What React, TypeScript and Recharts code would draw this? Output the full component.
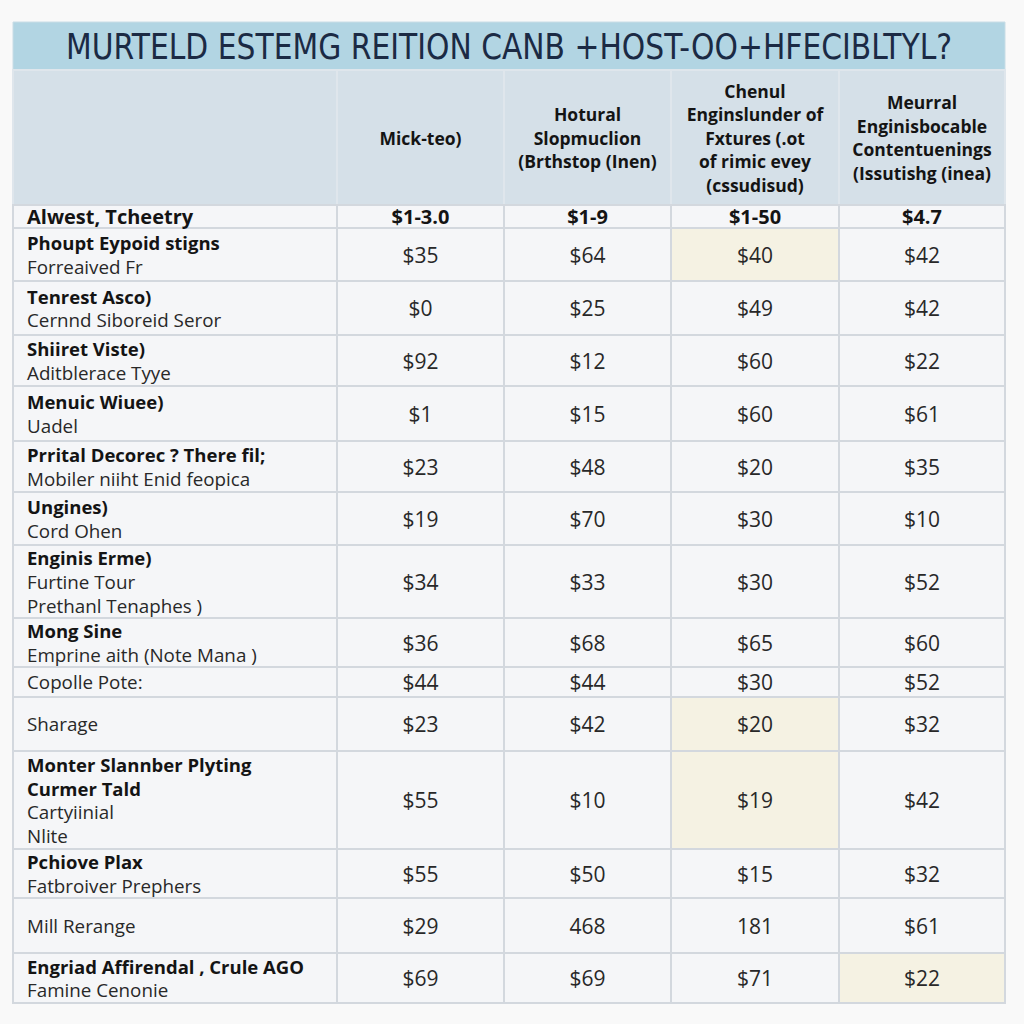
import React from 'react';
import { ComposedChart, XAxis, YAxis, Scatter, ReferenceArea } from 'recharts';

// ---- data ----
const TITLE = 'MURTELD ESTEMG REITION CANB +HOST-OO+HFECIBLTYL?';

const COLUMN_HEADERS: string[][] = [
  [],
  ['Mick-teo)'],
  ['Hotural', 'Slopmuclion', '(Brthstop (Inen)'],
  ['Chenul', 'Enginslunder of', 'Fxtures (.ot', 'of rimic evey', '(cssudisud)'],
  ['Meurral', 'Enginisbocable', 'Contentuenings', '(Issutishg (inea)'],
];

const ROW_TITLES: string[][] = [
  ['Alwest, Tcheetry'],
  ['Phoupt Eypoid stigns'],
  ['Tenrest Asco)'],
  ['Shiiret Viste)'],
  ['Menuic Wiuee)'],
  ['Prrital Decorec ? There fil;'],
  ['Ungines)'],
  ['Enginis Erme)'],
  ['Mong Sine'],
  [],
  [],
  ['Monter Slannber Plyting', 'Curmer Tald'],
  ['Pchiove Plax'],
  [],
  ['Engriad Affirendal , Crule AGO'],
];

const ROW_SUBTITLES: string[][] = [
  [],
  ['Forreaived Fr'],
  ['Cernnd Siboreid Seror'],
  ['Aditblerace Tyye'],
  ['Uadel'],
  ['Mobiler niiht Enid feopica'],
  ['Cord Ohen'],
  ['Furtine Tour', 'Prethanl Tenaphes )'],
  ['Emprine aith (Note Mana )'],
  ['Copolle Pote:'],
  ['Sharage'],
  ['Cartyiinial', 'Nlite'],
  ['Fatbroiver Prephers'],
  ['Mill Rerange'],
  ['Famine Cenonie'],
];

const MICK_TEO = ['$1-3.0', '$35', '$0', '$92', '$1', '$23', '$19', '$34', '$36', '$44', '$23', '$55', '$55', '$29', '$69'];
const HOTURAL = ['$1-9', '$64', '$25', '$12', '$15', '$48', '$70', '$33', '$68', '$44', '$42', '$10', '$50', '468', '$69'];
const CHENUL = ['$1-50', '$40', '$49', '$60', '$60', '$20', '$30', '$30', '$65', '$30', '$20', '$19', '$15', '181', '$71'];
const MEURRAL = ['$4.7', '$42', '$42', '$22', '$61', '$35', '$10', '$52', '$60', '$52', '$32', '$42', '$32', '$61', '$22'];
const VALUE_COLUMNS = [MICK_TEO, HOTURAL, CHENUL, MEURRAL];

// highlighted cells: [row, column]
const HIGHLIGHTS: [number, number][] = [[1, 3], [10, 3], [11, 3], [14, 4]];
const BOLD_ROWS = [0];

// ---- layout ----
const COL_WIDTHS = [324, 167, 167, 168, 166];
const TITLE_H = 48;
const HEADER_H = 135;
const ROW_HEIGHTS = [23, 53, 54, 51, 55, 51, 53, 73, 49, 30, 54, 98, 49, 55, 50];
const LINE_H = 24;

const FONT = '"Open Sans", "Noto Sans", sans-serif';
const GRID = '#d3d8de';
const CELL_BG = '#f5f6f8';
const HEADER_BG = '#d5e0e8';
const TITLE_BG = '#b2d5e3';
const CREAM = '#f5f2e3';

const colEdges = COL_WIDTHS.reduce<number[]>((acc, w) => [...acc, acc[acc.length - 1] + w], [0]);
const rowEdges = ROW_HEIGHTS.reduce<number[]>((acc, h) => [...acc, acc[acc.length - 1] + h], [TITLE_H + HEADER_H]);
const totalW = colEdges[colEdges.length - 1];
const totalH = rowEdges[rowEdges.length - 1];

type Line = { text: string; bold: boolean; size: number };
type Cell = { x: number; y: number; lines: Line[]; kind: string };

const cells: Cell[] = [];
// title
cells.push({ x: totalW / 2, y: TITLE_H / 2, lines: [{ text: TITLE, bold: false, size: 36 }], kind: 'title' });
// headers
COLUMN_HEADERS.forEach((h, c) => {
  if (!h.length) return;
  cells.push({
    x: (colEdges[c] + colEdges[c + 1]) / 2,
    y: TITLE_H + HEADER_H / 2,
    lines: h.map((t) => ({ text: t, bold: true, size: 17.5 })),
    kind: 'header',
  });
});
// rows
ROW_HEIGHTS.forEach((_, r) => {
  const cy = (rowEdges[r] + rowEdges[r + 1]) / 2;
  const boldRow = BOLD_ROWS.includes(r);
  cells.push({
    x: 0,
    y: cy,
    lines: [
      ...ROW_TITLES[r].map((t) => ({ text: t, bold: true, size: boldRow ? 20 : 18.5 })),
      ...ROW_SUBTITLES[r].map((t) => ({ text: t, bold: false, size: 18.8 })),
    ],
    kind: 'label',
  });
  VALUE_COLUMNS.forEach((col, c) => {
    cells.push({
      x: (colEdges[c + 1] + colEdges[c + 2]) / 2,
      y: cy,
      lines: [{ text: col[r], bold: boldRow, size: boldRow ? 20 : 21 }],
      kind: 'value',
    });
  });
});

const renderText = (props: any) => {
  const { cx, cy, payload } = props;
  const p: Cell = payload;
  if (p.kind === 'title') {
    return (
      <g transform={`translate(${cx},${cy + 1}) scale(0.92,1)`}>
        <text
          x={0}
          y={0}
          textAnchor="middle"
          dominantBaseline="central"
          fontFamily='"DejaVu Sans Condensed", "DejaVu Sans", sans-serif'
          fontSize={p.lines[0].size}
          fill="#1b2a44"
        >
          {p.lines[0].text}
        </text>
      </g>
    );
  }
  const n = p.lines.length;
  const left = p.kind === 'label';
  const step = p.kind === 'header' ? 23.5 : LINE_H;
  return (
    <g>
      {p.lines.map((l, i) => (
        <text
          key={i}
          x={left ? cx + 14 : cx}
          y={cy + (i - (n - 1) / 2) * step}
          textAnchor={left ? 'start' : 'middle'}
          dominantBaseline="central"
          fontFamily={FONT}
          fontWeight={l.bold ? 700 : 400}
          fontSize={l.size}
          fill={l.bold ? '#141414' : '#282828'}
        >
          {l.text}
        </text>
      ))}
    </g>
  );
};

export default function App() {
  const highlighted = (r: number, c: number) => HIGHLIGHTS.some(([hr, hc]) => hr === r && hc === c);
  return (
    <div style={{ position: 'absolute', left: 0, top: 0, width: 1024, height: 1024, background: '#f9f9f9' }}>
      <ComposedChart width={1024} height={1024} margin={{ top: 22, left: 13, right: 19, bottom: 21 }}>
        <XAxis type="number" dataKey="x" domain={[0, totalW]} hide allowDataOverflow />
        <YAxis type="number" dataKey="y" domain={[0, totalH]} reversed hide allowDataOverflow />

        <ReferenceArea x1={0} x2={totalW} y1={0} y2={TITLE_H} fill={TITLE_BG} fillOpacity={1} stroke="#c9dde6" strokeWidth={1} />
        {COL_WIDTHS.map((_, c) => (
          <ReferenceArea
            key={`h${c}`}
            x1={colEdges[c]}
            x2={colEdges[c + 1]}
            y1={TITLE_H}
            y2={TITLE_H + HEADER_H}
            fill={HEADER_BG}
            fillOpacity={1}
            stroke="#dfe6ec"
            strokeWidth={2}
          />
        ))}
        {ROW_HEIGHTS.map((_, r) =>
          COL_WIDTHS.map((__, c) => (
            <ReferenceArea
              key={`c${r}-${c}`}
              x1={colEdges[c]}
              x2={colEdges[c + 1]}
              y1={rowEdges[r]}
              y2={rowEdges[r + 1]}
              fill={highlighted(r, c) ? CREAM : CELL_BG}
              fillOpacity={1}
              stroke={GRID}
              strokeWidth={2}
            />
          ))
        )}

        <Scatter data={cells} shape={renderText} isAnimationActive={false} />
      </ComposedChart>
    </div>
  );
}
